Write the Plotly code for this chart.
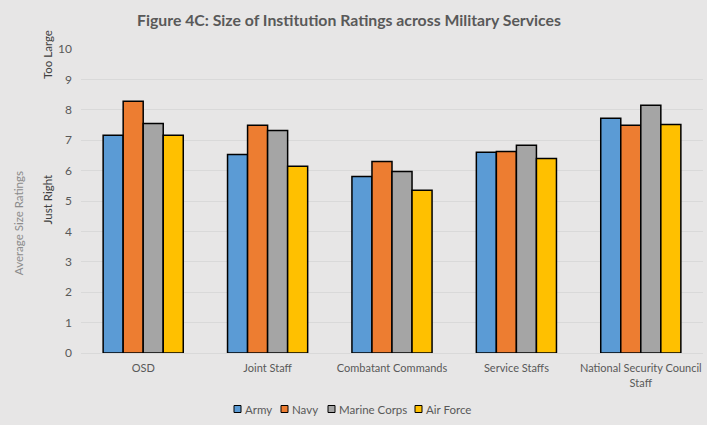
import plotly.graph_objects as go

categories = ["OSD", "Joint Staff", "Combatant Commands", "Service Staffs",
              "National Security Council<br>Staff"]
army = [7.16, 6.53, 5.81, 6.60, 7.72]
navy = [8.28, 7.49, 6.30, 6.63, 7.49]
marine = [7.55, 7.32, 5.97, 6.83, 8.15]
air_force = [7.16, 6.14, 5.35, 6.40, 7.52]
series_names = ["Army", "Navy", "Marine Corps", "Air Force"]
series_values = [army, navy, marine, air_force]
series_colors = ["#5B9BD5", "#ED7D31", "#A5A5A5", "#FFC000"]

W, H = 707, 425
L, R, T, B = 81, 4, 49, 72
bg = "#E7E6E6"
font = "Lato"
txt = "#595959"

fig = go.Figure()
for name, vals, col in zip(series_names, series_values, series_colors):
    fig.add_trace(go.Bar(x=categories, y=vals, name=name, marker_color=col,
                         marker_line_color="black", marker_line_width=1.5,
                         showlegend=False))

fig.update_layout(
    width=W, height=H,
    paper_bgcolor=bg, plot_bgcolor=bg,
    barmode="group", bargap=0.356, bargroupgap=0,
    margin=dict(l=L, r=R, t=T, b=B, autoexpand=False),
    font=dict(family=font, color=txt, size=11),
    title=dict(text="<b>Figure 4C: Size of Institution Ratings across Military Services</b>",
               x=349 / W, xanchor="center", xref="container", y=1 - 20 / H, yanchor="middle",
               font=dict(family=font, size=15.8, color=txt)),
    xaxis=dict(showgrid=False, showline=True, linecolor="#D9D9D9", ticks="",
               ticklabelstandoff=5, tickfont=dict(size=11, color=txt)),
    yaxis=dict(range=[0, 10], dtick=1, showgrid=True, gridcolor="#D9D9D9",
               gridwidth=1, zeroline=False, ticks="", ticklabelstandoff=8,
               tickfont=dict(size=12, color=txt)),
)

# axis titles
fig.add_annotation(text="Average Size Ratings", xref="paper", yref="y", x=0, y=4.27,
                   xshift=18 - L, xanchor="center", yanchor="middle", textangle=-90,
                   showarrow=False, font=dict(size=11.5, color="#8C8C8C", family=font))
for label, yv in [("Too Large", 9.8), ("Just Right", 5.02), ("Too Small", -0.24)]:
    fig.add_annotation(text=label, xref="paper", yref="y", x=0, y=yv,
                       xshift=47 - L, xanchor="center", yanchor="middle", textangle=-90,
                       showarrow=False, font=dict(size=11.5, color="#404040", family=font))

# legend (manual, compact like reference)
legend_x = [234, 281, 328, 415]
legend_y = H - 409
pw = W - L - R
ph = H - T - B
for name, col, xp in zip(series_names, series_colors, legend_x):
    x0 = (xp - L) / pw
    x1 = (xp + 7 - L) / pw
    y0 = (legend_y - 3.5 - B) / ph
    y1 = (legend_y + 3.5 - B) / ph
    fig.add_shape(type="rect", xref="paper", yref="paper", x0=x0, x1=x1, y0=y0, y1=y1,
                  fillcolor=col, line=dict(color="black", width=1))
    fig.add_annotation(text=name, xref="paper", yref="paper", x=(xp + 9 - L) / pw,
                       y=(legend_y - B) / ph, xanchor="left", yanchor="middle",
                       showarrow=False, font=dict(size=11.5, color=txt, family=font))

fig.write_html("out.html", config={"displayModeBar": False},
               post_script="document.body.style.margin='0';document.body.style.overflow='hidden';")
